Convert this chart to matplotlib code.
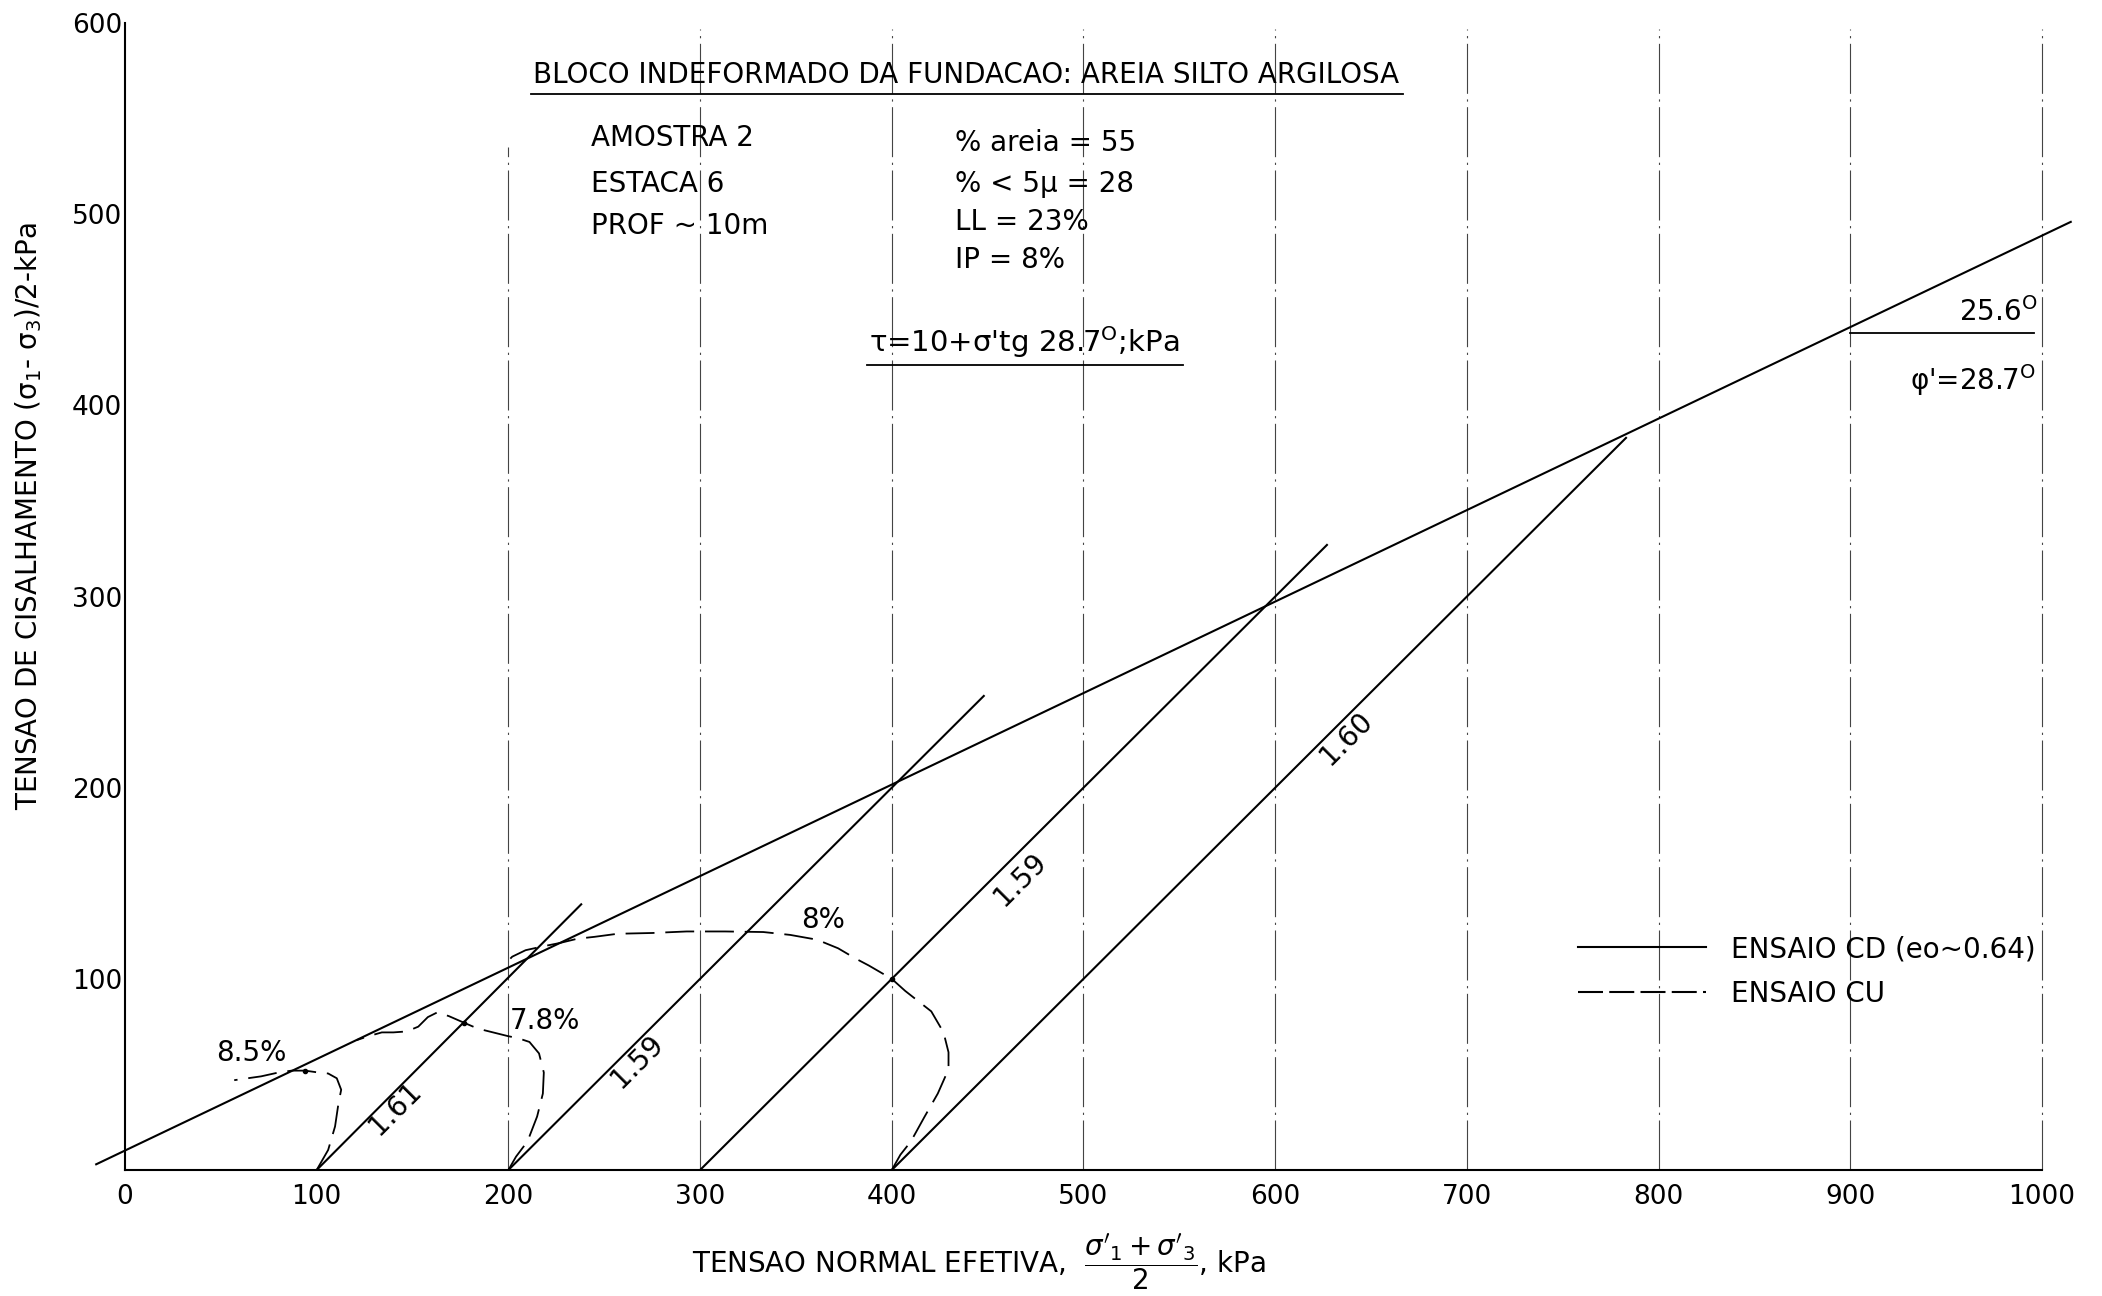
import matplotlib
matplotlib.use('Agg')
import matplotlib.pyplot as plt
from matplotlib.lines import Line2D

plt.rcParams['font.family'] = ['DejaVu Sans']
plt.rcParams['mathtext.fontset'] = 'dejavusans'

# failure envelope (p', q) kPa
envelope_p = [-15, 1015]
envelope_q = [3, 496]

# CD stress paths (solid), from start on the p' axis to end point
cd_start_p = [100, 200, 300, 400]
cd_end_p = [238, 448, 627, 783]
cd_end_q = [139, 248, 327, 383]
cd_labels = ['1.61', '1.59', '1.59', '1.60']
cd_label_p = [141, 267, 467, 637]
cd_label_q = [32, 57, 152, 226]

# CU stress paths (dashed)
cu1_p = [100, 106, 109.6, 111.4, 112.8, 110.5, 106, 101, 94, 87, 80, 71, 64, 57]
cu1_q = [0, 10.5, 22.8, 35, 42, 48, 50.5, 51, 52, 52, 51, 49, 48, 47]
cu2_p = [200, 204, 210, 215, 218, 218.5, 216, 211, 205, 200, 192, 184, 177,
         169, 163, 158, 153, 147, 140, 134, 127, 121]
cu2_q = [0, 7, 15, 28, 40, 51, 61, 67, 69, 70, 72, 74, 77,
         80.5, 82.5, 80, 75, 72.5, 72, 72, 70, 68]
cu3_p = [400, 404.5, 410, 417, 424, 429.6, 429.6, 427, 420.6, 411.7, 407, 400,
         388, 381, 372, 361, 347, 333, 313, 293, 275, 257, 245, 236, 227, 218,
         209, 202, 200]
cu3_q = [0, 8, 15, 27.7, 40, 52.7, 61.6, 72, 83, 90, 93.7, 100,
         107, 110.7, 116, 120.5, 123, 124.5, 124.8, 124.8, 124, 123.6, 122, 121,
         118.8, 117, 115, 111.6, 109.5]
cu_labels = ['8.5%', '7.8%', '8%']
cu_label_p = [66, 219, 364]
cu_label_q = [61, 78, 131]

# points where CU paths meet CD paths / envelope
dot_p = [94, 177, 400]
dot_q = [52, 77, 100]

# angle annotation on the envelope
angle_line_p = [900, 996]
angle_line_q = [438, 438]

x_ticks = [0, 100, 200, 300, 400, 500, 600, 700, 800, 900, 1000]
y_ticks = [100, 200, 300, 400, 500, 600]
grid_x = [200, 300, 400, 500, 600, 700, 800, 900, 1000]
grid_top = [535, 597, 597, 597, 597, 597, 597, 597, 597]

fs = 20
fig = plt.figure(figsize=(21.02, 12.96), dpi=100)
ax = fig.add_axes([0.0412, 0.0972, 0.9485, 0.885])
ax.set_xlim(-20, 1020)
ax.set_ylim(0, 600)

# background reference lines
ax.vlines(grid_x, 0, grid_top, colors='#444444', linewidth=0.8,
          linestyles=[(0, (45, 5, 2, 5))])

ax.plot(envelope_p, envelope_q, color='black', lw=1.5, clip_on=False)

for p0, p1, q1 in zip(cd_start_p, cd_end_p, cd_end_q):
    ax.plot([p0, p1], [0, q1], color='black', lw=1.5)
for lab, lp, lq in zip(cd_labels, cd_label_p, cd_label_q):
    ax.text(lp, lq, lab, rotation=45, fontsize=fs, ha='center', va='center',
            rotation_mode='anchor')

dash = (0, (16, 6))
for pp, qq in [(cu1_p, cu1_q), (cu2_p, cu2_q), (cu3_p, cu3_q)]:
    ax.plot(pp, qq, color='black', lw=1.3, linestyle=dash)
for lab, lp, lq in zip(cu_labels, cu_label_p, cu_label_q):
    ax.text(lp, lq, lab, fontsize=fs, ha='center', va='center')
ax.plot(dot_p, dot_q, 'o', color='black', ms=3)

ax.plot(angle_line_p, angle_line_q, color='black', lw=1.3)
ax.text(977, 441, '25.6$^{\\mathrm{O}}$', fontsize=fs, ha='center', va='bottom')
ax.text(964, 413, "φ'=28.7$^{\\mathrm{O}}$", fontsize=fs, ha='center', va='center')

# text block
title = ax.text(213, 573, 'BLOCO INDEFORMADO DA FUNDACAO: AREIA SILTO ARGILOSA',
                fontsize=fs, ha='left', va='center')
left_col = ['AMOSTRA 2', 'ESTACA 6', 'PROF ~ 10m']
left_q = [540, 516, 494]
for s, q in zip(left_col, left_q):
    ax.text(243, q, s, fontsize=fs, ha='left', va='center')
right_col = ['% areia = 55', '% < 5μ = 28', 'LL = 23%', 'IP = 8%']
right_q = [537, 516, 496, 476]
for s, q in zip(right_col, right_q):
    ax.text(433, q, s, fontsize=fs, ha='left', va='center')
eq = ax.text(388, 433, "τ=10+σ'tg 28.7$^{\\mathrm{O}}$;kPa", fontsize=21,
             ha='left', va='center')

legend_handles = [Line2D([], [], color='black', lw=1.5),
                  Line2D([], [], color='black', lw=1.5, linestyle=(0, (12, 3)))]
ax.legend(legend_handles, ['ENSAIO CD (eo~0.64)', 'ENSAIO CU'],
          loc='upper left', bbox_to_anchor=(745, 136),
          bbox_transform=ax.transData, frameon=False, fontsize=fs,
          handlelength=4.6, handletextpad=0.9, labelspacing=0.6)

# axes styling
for side in ['top', 'right']:
    ax.spines[side].set_visible(False)
ax.spines['left'].set_position(('data', 0))
ax.spines['left'].set_bounds(0, 600)
ax.spines['bottom'].set_bounds(0, 1000)
ax.spines['left'].set_linewidth(1.5)
ax.spines['bottom'].set_linewidth(1.5)
ax.set_xticks(x_ticks)
ax.set_yticks(y_ticks)
ax.tick_params(length=0, labelsize=19)
ax.tick_params(axis='x', pad=10)
ax.tick_params(axis='y', pad=2)

fig.text(29 / 2102, 1 - 516 / 1296,
         'TENSAO DE CISALHAMENTO (σ$_1$- σ$_3$)/2-kPa',
         rotation=90, fontsize=fs, ha='center', va='center')
fig.text(0.329, 1 - 1262 / 1296,
         "TENSAO NORMAL EFETIVA,  $\\dfrac{\\sigma'_1+\\sigma'_3}{2}$, kPa",
         fontsize=fs, ha='left', va='center')

# underline title and equation
fig.canvas.draw()
inv = ax.transData.inverted()
for t in [title, eq]:
    bb = t.get_window_extent()
    (x0, y0), (x1, _) = inv.transform([(bb.x0 - 2, bb.y0 - 5), (bb.x1 + 4, bb.y0)])
    ax.plot([x0, x1], [y0, y0], color='black', lw=1.3)

fig.savefig('out.png', dpi=100)
